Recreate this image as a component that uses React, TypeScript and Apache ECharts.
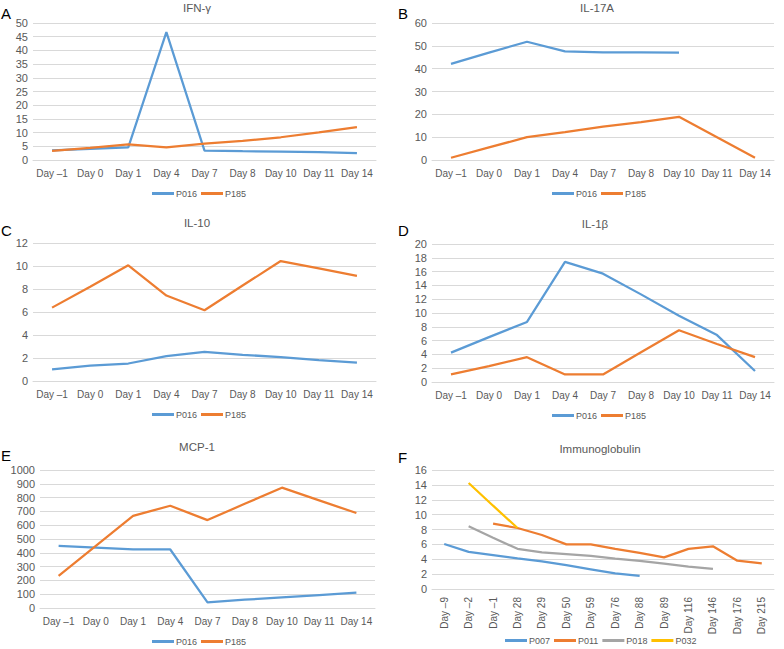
import React, { useEffect, useRef } from "react";
import * as echarts from "echarts";

const daysCyto = ["Day –1", "Day 0", "Day 1", "Day 4", "Day 7", "Day 8", "Day 10", "Day 11", "Day 14"];
const daysIg = ["Day –9", "Day –2", "Day –1", "Day 28", "Day 29", "Day 50", "Day 59", "Day 76", "Day 88", "Day 89", "Day 116", "Day 146", "Day 176", "Day 215"];

const ifnP016 = [3.5, 4.1, 4.6, 46.7, 3.4, 3.2, 3.1, 2.9, 2.5];
const ifnP185 = [3.3, 4.4, 5.7, 4.6, 6.0, 7.0, 8.3, 10.1, 12.0];

const il17P016 = [42.1, 47.0, 51.8, 47.6, 47.1, 47.1, 47.0, null, null];
const il17P185 = [1.0, 5.5, 10.0, 12.2, 14.6, 16.6, 18.9, 10.0, 1.0];

const il10P016 = [1.02, 1.34, 1.52, 2.16, 2.54, 2.28, 2.07, 1.81, 1.6];
const il10P185 = [6.38, 8.2, 10.06, 7.43, 6.15, 8.3, 10.43, 9.8, 9.15];

const il1bP016 = [4.26, 6.5, 8.7, 17.4, 15.7, 12.7, 9.6, 6.8, 1.6];
const il1bP185 = [1.1, 2.3, 3.6, 1.1, 1.1, 4.3, 7.5, 5.5, 3.6];

const mcpP016 = [450, 438, 424, 424, 41, 60, 77, 94, 111];
const mcpP185 = [232, 450, 668, 741, 637, 755, 872, 780, 688];

const igP007 = [6.05, 5.0, 4.57, 4.12, 3.7, 3.2, 2.65, 2.1, 1.75, null, null, null, null, null];
const igP011 = [null, null, 8.8, 8.2, 7.26, 6.0, 6.0, 5.4, 4.85, 4.26, 5.4, 5.74, 3.8, 3.45];
const igP018 = [null, 8.43, 6.9, 5.4, 4.93, 4.7, 4.44, 4.1, 3.77, 3.4, 3.0, 2.7, null, null];
const igP032 = [null, 14.25, 11.2, 8.2, null, null, null, null, null, null, null, null, null, null];

const titles = ["IFN-γ", "IL-17A", "IL-10", "IL-1β", "MCP-1", "Immunoglobulin"];
const letters = ["A", "B", "C", "D", "E", "F"];
const yMax = [50, 60, 12, 20, 1000, 16];
const yStep = [5, 10, 2, 2, 100, 2];

const BLUE = "#5B9BD5";
const ORANGE = "#ED7D31";
const GRAY = "#A5A5A5";
const YELLOW = "#FFC000";
const FONT = "Liberation Sans, Arial, Helvetica, sans-serif";
const TXT = "#595959";

export default function App() {
  const ref = useRef<HTMLDivElement>(null);
  useEffect(() => {
    if (!ref.current) return;
    const chart = echarts.init(ref.current, undefined, { renderer: "svg" });

    const grids = [
      { left: 33, top: 23, width: 343, height: 137 },
      { left: 432, top: 23, width: 342, height: 137 },
      { left: 33, top: 243, width: 343, height: 138 },
      { left: 432, top: 244, width: 342, height: 138 },
      { left: 40, top: 470, width: 335, height: 138 },
      { left: 432, top: 470, width: 342, height: 119 },
    ];
    const titlePos = [
      [197, 8], [597, 8], [197, 223], [595, 224], [197, 447], [600, 449],
    ];
    const letterPos = [
      [1, 13], [398, 13], [1, 230], [398, 230], [1, 455], [398, 457],
    ];
    const legendPos = [
      [152, 189], [552, 189], [152, 410], [552, 411], [152, 637], [505, 636],
    ];

    const seriesDefs: any[][] = [
      [["P016", ifnP016, BLUE], ["P185", ifnP185, ORANGE]],
      [["P016", il17P016, BLUE], ["P185", il17P185, ORANGE]],
      [["P016", il10P016, BLUE], ["P185", il10P185, ORANGE]],
      [["P016", il1bP016, BLUE], ["P185", il1bP185, ORANGE]],
      [["P016", mcpP016, BLUE], ["P185", mcpP185, ORANGE]],
      [["P007", igP007, BLUE], ["P011", igP011, ORANGE], ["P018", igP018, GRAY], ["P032", igP032, YELLOW]],
    ];

    const xAxis = grids.map((_, i) => ({
      type: "category",
      gridIndex: i,
      data: i === 5 ? daysIg : daysCyto,
      boundaryGap: true,
      axisTick: { show: false },
      axisLine: { show: true, lineStyle: { color: "#d9d9d9", width: 1 } },
      axisLabel: {
        interval: 0,
        color: TXT,
        fontFamily: FONT,
        fontSize: 10,
        margin: 8,
        rotate: i === 5 ? 90 : 0,
      },
    }));
    const yAxis = grids.map((_, i) => ({
      type: "value",
      gridIndex: i,
      min: 0,
      max: yMax[i],
      interval: yStep[i],
      axisLine: { show: false },
      axisTick: { show: false },
      splitLine: { lineStyle: { color: "#d9d9d9", width: 1 } },
      axisLabel: {
        color: TXT,
        fontFamily: FONT,
        fontSize: 11,
        margin: 5,
        formatter: (v: number) => String(v),
      },
    }));
    const series: any[] = [];
    seriesDefs.forEach((defs, i) => {
      defs.forEach(([name, data, color]) => {
        series.push({
          type: "line",
          name,
          xAxisIndex: i,
          yAxisIndex: i,
          data,
          symbol: "none",
          color,
          lineStyle: { color, width: 2.25 },
          connectNulls: false,
        });
      });
    });
    const legend = seriesDefs.map((defs, i) => ({
      left: legendPos[i][0],
      top: legendPos[i][1],
      orient: "horizontal",
      icon: "rect",
      itemWidth: 22,
      itemHeight: 3,
      itemGap: 4,
      padding: 0,
      data: defs.map((d) => d[0]),
      textStyle: { color: TXT, fontFamily: FONT, fontSize: 9, padding: [0, 0, 0, -3] },
      selectedMode: false,
    }));
    const graphic: any[] = [];
    titles.forEach((t, i) => {
      graphic.push({
        type: "text",
        x: titlePos[i][0],
        y: titlePos[i][1],
        style: {
          text: t,
          fill: TXT,
          font: `11.5px ${FONT}`,
          textAlign: "center",
          textVerticalAlign: "middle",
        },
      });
      graphic.push({
        type: "text",
        x: letterPos[i][0],
        y: letterPos[i][1],
        style: {
          text: letters[i],
          fill: "#000",
          font: `15px ${FONT}`,
          textAlign: "left",
          textVerticalAlign: "middle",
        },
      });
    });

    chart.setOption({
      animation: false,
      backgroundColor: "#ffffff",
      grid: grids,
      xAxis,
      yAxis,
      series,
      legend,
      graphic,
    });
    return () => chart.dispose();
  }, []);
  return (
    <div
      ref={ref}
      style={{ position: "fixed", left: 0, top: 0, width: 784, height: 649 }}
    />
  );
}
